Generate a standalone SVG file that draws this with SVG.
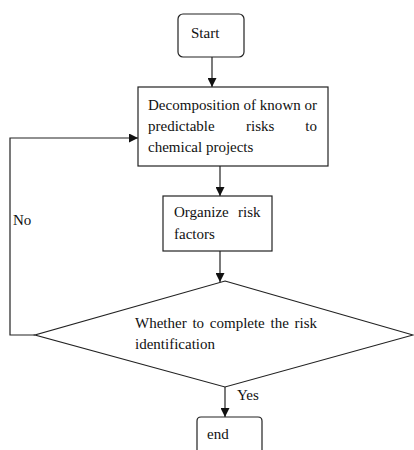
<svg xmlns="http://www.w3.org/2000/svg" width="414" height="450" viewBox="0 0 414 450">
<defs>
<marker id="arr" viewBox="0 0 10 10" refX="10" refY="5" markerWidth="9" markerHeight="9" markerUnits="userSpaceOnUse" orient="auto">
<path d="M0,0 L10,5 L0,10 z" fill="#111"/>
</marker>
<style>
.box{fill:#fff;stroke:#222;stroke-width:1.2}
.ln{fill:none;stroke:#222;stroke-width:1.2}
text{font-family:"Liberation Serif","Times New Roman",serif;font-size:15px;fill:#111}
</style>
</defs>
<rect width="414" height="450" fill="#fff"/>
<g id="connectors">
<path class="ln" d="M212,57 L212,87" marker-end="url(#arr)"/>
<path class="ln" d="M220,166 L220,196" marker-end="url(#arr)"/>
<path class="ln" d="M220,251 L220,282" marker-end="url(#arr)"/>
<path class="ln" d="M225,387 L225,417" marker-end="url(#arr)"/>
<path class="ln" d="M35,335 L10,335 L10,138 L138,138" marker-end="url(#arr)"/>
<text x="13" y="225">No</text>
<text x="237" y="400">Yes</text>
</g>
<g id="start">
<rect class="box" x="178" y="14" width="66" height="43" rx="5"/>
<text x="191" y="38">Start</text>
</g>
<g id="decompose">
<rect class="box" x="138" y="87" width="190" height="79"/>
<text x="148" y="110" textLength="169" lengthAdjust="spacing">Decomposition of known or</text>
<text x="148" y="131">predictable</text>
<text x="246" y="131">risks</text>
<text x="317" y="131" text-anchor="end">to</text>
<text x="148" y="152">chemical projects</text>
</g>
<g id="organize">
<rect class="box" x="163" y="196" width="109" height="55"/>
<text x="174" y="217">Organize</text>
<text x="238" y="217">risk</text>
<text x="174" y="239">factors</text>
</g>
<g id="decision">
<polygon class="box" points="225,281 413,335 225,387 35,335"/>
<text x="135" y="328" word-spacing="2">Whether to complete the risk</text>
<text x="135" y="349">identification</text>
</g>
<g id="end">
<path class="box" d="M197,452 L197,421 Q197,417 201,417 L258,417 Q262,417 262,421 L262,452"/>
<text x="207" y="439">end</text>
</g>
</svg>
